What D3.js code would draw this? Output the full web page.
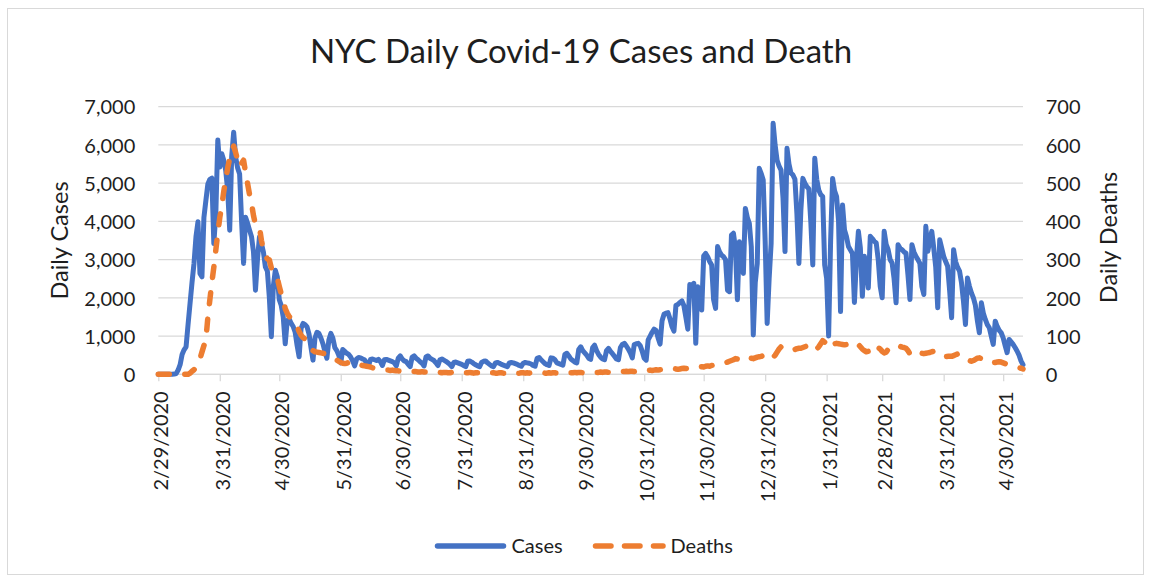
<!DOCTYPE html>
<html>
<head>
<meta charset="utf-8">
<script src="https://cdn.jsdelivr.net/npm/d3@7"></script>
<style>
  html, body { margin: 0; padding: 0; background: #fff; }
  svg { display: block; font-family: Lato, "Open Sans", sans-serif; }
</style>
</head>
<body>
<svg id="chart" width="1151" height="581"></svg>
<script>
// ---- data -------------------------------------------------------------
const chartTitle = "NYC Daily Covid-19 Cases and Death";
const firstDay = "2020-02-29";          // one value per day from this date on
const seriesNames = ["Cases", "Deaths"];
const axisTitles = ["Daily Cases", "Daily Deaths"];

const dailyCases = [
  0, 0, 0, 0, 0, 0, 0, 0,
  5, 20, 110, 250, 520, 640, 720,
  1300, 1850, 2400, 2900, 3600, 3990, 2640,
  2550, 4100, 4550, 4980, 5100, 5130, 3420,
  4200, 6130, 5420, 5770, 5600, 5330, 4800,
  3770, 5700, 6330, 5680, 5400, 5240, 4000,
  2900, 4110, 3950, 3770, 3600, 3200, 2200,
  3000, 3590, 3420, 3200, 2810, 2700, 2000,
  985, 2300, 2720, 2550, 1950, 1800, 1500,
  800, 1400, 1450, 1330, 1250, 1100, 750,
  460, 1200, 1330, 1300, 1240, 1050, 700,
  370, 950, 1100, 1070, 950, 800, 600,
  420, 900, 1070, 950, 700, 620, 500,
  300, 650, 600, 550, 520, 450, 350,
  220, 400, 440, 430, 400, 380, 300,
  220, 390, 400, 380, 360, 390, 330,
  230, 380, 390, 370, 350, 330, 300,
  220, 420, 480, 400, 350, 330, 260,
  200, 450, 480, 420, 380, 330, 290,
  220, 460, 480, 420, 390, 360, 300,
  230, 380, 400, 370, 340, 300, 260,
  200, 310, 320, 300, 280, 260, 230,
  200, 340, 350, 320, 280, 250, 220,
  200, 310, 340, 350, 300, 260, 220,
  200, 300, 310, 290, 260, 240, 220,
  200, 300, 310, 300, 280, 260, 230,
  210, 290, 310, 300, 290, 270, 230,
  210, 420, 440, 380, 330, 280, 250,
  230, 430, 420, 380, 300, 280, 260,
  240, 520, 550, 480, 400, 360, 320,
  300, 650, 720, 620, 560, 500, 420,
  390, 700, 760, 620, 520, 450, 400,
  380, 620, 680, 600, 540, 470, 400,
  380, 700, 780, 810, 740, 660, 560,
  430, 780, 800, 810, 750, 600, 420,
  370, 900, 1000, 1100, 1180, 1150, 950,
  790, 1400, 1570, 1600, 1613, 1450, 1250,
  1130, 1800, 1830, 1880, 1920, 1800, 1500,
  1180, 2350, 2330, 2380, 810, 2290, 2000,
  1680, 3100, 3160, 3075, 2950, 2860, 1950,
  1725, 3340, 3200, 3120, 3075, 3000, 2200,
  2160, 3640, 3690, 3300, 1950, 3470, 3000,
  2640, 4340, 4100, 3950, 3340, 1030, 2400,
  2900, 5390, 5250, 5080, 3470, 1330, 2500,
  3420, 6565, 6000, 5600, 5450, 5340, 4600,
  3210, 5910, 5500, 5260, 5215, 5100, 4200,
  2900, 4300, 5125, 5000, 4910, 4850, 4000,
  2860, 5650, 5100, 4820, 4700, 4650, 2860,
  2500, 1000, 3500, 5125, 4800, 4650, 4000,
  1640, 4430, 3775, 3600, 3340, 3250, 3160,
  1880, 3000, 3740, 3300, 2040, 3087, 2800,
  2260, 3610, 3550, 3480, 3435, 3000, 2300,
  2000, 3740, 3400, 3260, 3000, 2913, 2500,
  1870, 3390, 3300, 3260, 3200, 3170, 2600,
  1957, 3390, 3200, 3087, 3000, 2900, 2300,
  2087, 3870, 3217, 3500, 3740, 3300, 2800,
  1740, 3520, 3300, 3087, 2950, 2826, 2200,
  1480, 3260, 2950, 2800, 2700, 2390, 1900,
  1305, 2520, 2300, 2130, 2000, 1800, 1400,
  1087, 1870, 1600, 1435, 1300, 1217, 1000,
  783, 1390, 1250, 1150, 1087, 950, 750,
  565, 913, 850, 783, 700, 609, 500,
  350, 250
];

const dailyDeaths = [
  0, 0, 0, 0, 0, 0, 0,
  0, 0, 0, 0, 0, 0, 0,
  0, 0, 3, 8, 12, 18, 29,
  40, 58, 75, 90, 150, 195, 240,
  280, 325, 370, 410, 440, 478, 510,
  540, 565, 585, 597, 580, 560, 543,
  552, 560, 528, 500, 470, 447, 415,
  392, 388, 386, 350, 325, 310, 302,
  299, 278, 264, 258, 252, 230, 210,
  194, 172, 160, 151, 146, 138, 132,
  125, 112, 102, 96, 93, 85, 74,
  66, 62, 59, 58, 57, 56, 55,
  54, 52, 50, 48, 44, 40, 37,
  34, 31, 29, 28, 29, 31, 32,
  31, 30, 31, 28, 25, 23, 22,
  21, 20, 19, 17, 16, 15, 14,
  13, 12, 12, 11, 11, 10, 11,
  10, 9, 9, 8, 9, 8, 8,
  7, 7, 8, 7, 7, 6, 6,
  7, 6, 6, 5, 6, 5, 5,
  6, 5, 5, 4, 5, 5, 4,
  4, 5, 4, 4, 4, 5, 4,
  3, 4, 4, 5, 4, 3, 4,
  4, 3, 4, 5, 4, 3, 3,
  4, 4, 3, 3, 4, 4, 3,
  3, 4, 3, 4, 3, 4, 3,
  3, 4, 4, 3, 4, 3, 4,
  4, 3, 4, 4, 3, 4, 3,
  3, 4, 3, 4, 4, 3, 4,
  4, 5, 4, 4, 5, 4, 4,
  5, 4, 5, 5, 4, 5, 5,
  4, 5, 5, 4, 5, 5, 6,
  5, 6, 6, 5, 6, 7, 6,
  7, 7, 6, 7, 7, 8, 7,
  8, 8, 7, 8, 9, 8, 9,
  10, 9, 10, 11, 10, 11, 12,
  11, 12, 13, 12, 13, 14, 15,
  14, 15, 14, 13, 14, 15, 16,
  15, 16, 17, 16, 17, 18, 17,
  19, 20, 19, 21, 22, 21, 23,
  24, 23, 25, 26, 28, 29, 30,
  32, 34, 36, 38, 41, 40, 37,
  35, 33, 34, 37, 40, 42, 41,
  43, 45, 46, 47, 49, 52, 55,
  52, 46, 44, 50, 58, 66, 72,
  70, 66, 64, 63, 62, 63, 65,
  67, 68, 68, 70, 72, 74, 77,
  76, 70, 64, 66, 72, 80, 88,
  84, 75, 68, 72, 76, 80, 81,
  80, 79, 78, 77, 78, 80, 82,
  84, 85, 83, 78, 72, 66, 62,
  59, 60, 68, 76, 77, 74, 70,
  66, 60, 56, 58, 65, 72, 74,
  73, 72, 73, 73, 71, 70, 68,
  62, 53, 47, 49, 52, 54, 55,
  55, 54, 55, 56, 57, 59, 60,
  58, 54, 50, 46, 45, 46, 47,
  47, 47, 49, 51, 53, 54, 52,
  48, 44, 40, 36, 34, 36, 39,
  42, 43, 41, 38, 35, 32, 30,
  29, 30, 31, 32, 33, 32, 30,
  28, 26, 25, 24, 23, 21, 19,
  17, 16, 14
];

const caseTicks = [0, 1000, 2000, 3000, 4000, 5000, 6000, 7000];
const deathTicks = [0, 100, 200, 300, 400, 500, 600, 700];
const dateTicks = [
  "2020-02-29", "2020-03-31", "2020-04-30", "2020-05-31", "2020-06-30",
  "2020-07-31", "2020-08-31", "2020-09-30", "2020-10-31", "2020-11-30",
  "2020-12-31", "2021-01-31", "2021-02-28", "2021-03-31", "2021-04-30"
];

// ---- layout -----------------------------------------------------------
const W = 1151, H = 581;
const plot = { left: 158.3, right: 1023, top: 106.7, bottom: 374.3 };
const BLUE = "#4472C4", ORANGE = "#ED7D31", GRID = "#d9d9d9", INK = "#1e1e1e";

const svg = d3.select("#chart");

svg.append("rect")
  .attr("x", 7.5).attr("y", 8.5)
  .attr("width", 1136).attr("height", 566)
  .attr("fill", "#fff").attr("stroke", GRID).attr("stroke-width", 1);

const start = d3.utcParse("%Y-%m-%d")(firstDay);
const dayAt = i => d3.utcDay.offset(start, i);
const rows = dailyCases.map((c, i) => ({ date: dayAt(i), cases: c, deaths: dailyDeaths[i] }));

const x = d3.scaleUtc()
  .domain([start, dayAt(dailyCases.length - 1)])
  .range([plot.left, plot.right]);
const yCases = d3.scaleLinear().domain([0, 7000]).range([plot.bottom, plot.top]);
const yDeaths = d3.scaleLinear().domain([0, 700]).range([plot.bottom, plot.top]);

// horizontal gridlines
svg.append("g").selectAll("line").data(caseTicks).join("line")
  .attr("x1", plot.left).attr("x2", plot.right)
  .attr("y1", d => yCases(d)).attr("y2", d => yCases(d))
  .attr("stroke", GRID).attr("stroke-width", 1.3);

// left axis (cases)
const leftAxis = svg.append("g")
  .attr("transform", `translate(${plot.left},0)`)
  .call(d3.axisLeft(yCases).tickValues(caseTicks).tickFormat(d3.format(",")).tickSize(0).tickPadding(23));
leftAxis.select(".domain").remove();
leftAxis.selectAll("text").attr("font-size", 20).attr("fill", INK)
  .attr("font-family", "Lato, 'Open Sans', sans-serif").attr("dy", "0.36em");

// right axis (deaths)
const rightAxis = svg.append("g")
  .attr("transform", `translate(${plot.right},0)`)
  .call(d3.axisRight(yDeaths).tickValues(deathTicks).tickSize(0).tickPadding(22.7));
rightAxis.select(".domain").remove();
rightAxis.selectAll("text").attr("font-size", 20).attr("fill", INK)
  .attr("font-family", "Lato, 'Open Sans', sans-serif").attr("dy", "0.36em");

// bottom date axis
const fmt = d3.utcFormat("%-m/%-d/%Y");
const parse = d3.utcParse("%Y-%m-%d");
const bottomAxis = svg.append("g")
  .attr("transform", `translate(0,${plot.bottom})`)
  .call(d3.axisBottom(x).tickValues(dateTicks.map(parse)).tickFormat(fmt).tickSize(7));
bottomAxis.select(".domain").attr("stroke", GRID).attr("stroke-width", 1.3)
  .attr("d", `M${plot.left},0H${plot.right}`);
bottomAxis.selectAll(".tick line").attr("stroke", GRID).attr("stroke-width", 1.3);
bottomAxis.selectAll(".tick text")
  .attr("font-size", 20).attr("fill", INK)
  .attr("font-family", "Lato, 'Open Sans', sans-serif")
  .attr("x", null).attr("y", null).attr("dy", null)
  .attr("text-anchor", "end")
  .attr("transform", "translate(9.5,17) rotate(-90)");

// series lines
const casesLine = d3.line().x(d => x(d.date)).y(d => yCases(d.cases));
const deathsLine = d3.line().x(d => x(d.date)).y(d => yDeaths(d.deaths));

svg.append("path").datum(rows)
  .attr("d", casesLine)
  .attr("fill", "none").attr("stroke", BLUE).attr("stroke-width", 5)
  .attr("stroke-linejoin", "round").attr("stroke-linecap", "round");

svg.append("path").datum(rows)
  .attr("d", deathsLine)
  .attr("fill", "none").attr("stroke", ORANGE).attr("stroke-width", 5.5)
  .attr("stroke-linejoin", "round").attr("stroke-linecap", "round")
  .attr("stroke-dasharray", "11,15.5");

// title
svg.append("text")
  .attr("x", 581).attr("y", 63)
  .attr("text-anchor", "middle")
  .attr("font-size", 33).attr("fill", INK)
  .text(chartTitle);

// axis titles
svg.append("text")
  .attr("transform", `translate(68,240.5) rotate(-90)`)
  .attr("text-anchor", "middle").attr("font-size", 23.5).attr("fill", INK)
  .text(axisTitles[0]);
svg.append("text")
  .attr("transform", `translate(1116.5,237.5) rotate(-90)`)
  .attr("text-anchor", "middle").attr("font-size", 23.5).attr("fill", INK)
  .text(axisTitles[1]);

// legend
const legend = svg.append("g");
legend.append("line")
  .attr("x1", 437.5).attr("x2", 503.5).attr("y1", 546).attr("y2", 546)
  .attr("stroke", BLUE).attr("stroke-width", 5.5).attr("stroke-linecap", "round");
legend.append("text")
  .attr("x", 511.5).attr("y", 546).attr("dy", "0.36em")
  .attr("font-size", 20).attr("fill", INK).text(seriesNames[0]);
legend.append("line")
  .attr("x1", 595.5).attr("x2", 663).attr("y1", 546).attr("y2", 546)
  .attr("stroke", ORANGE).attr("stroke-width", 5.5).attr("stroke-linecap", "round")
  .attr("stroke-dasharray", "15.5,13.5");
legend.append("text")
  .attr("x", 670.5).attr("y", 546).attr("dy", "0.36em")
  .attr("font-size", 20).attr("fill", INK).text(seriesNames[1]);
</script>
</body>
</html>
